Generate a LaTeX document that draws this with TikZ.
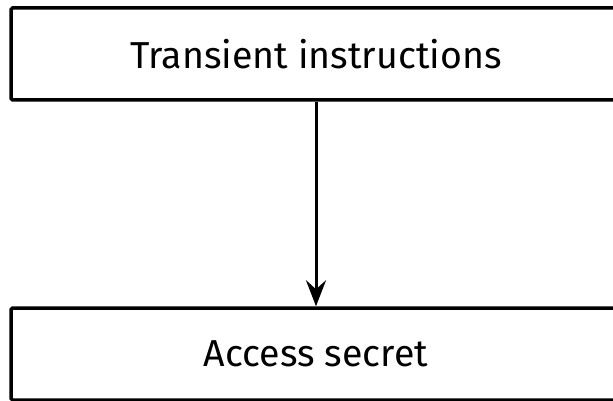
\documentclass[tikz,border=0pt]{standalone}
\usepackage{fontspec}
\setmainfont{Fira Sans}
\usetikzlibrary{arrows.meta}
\tikzset{stagebox/.style={draw, line width=3.5pt, rounded corners=1.5pt, minimum width=610pt, minimum height=92pt, inner sep=0pt, font=\fontsize{37.5}{45}\selectfont}}
\begin{document}
\begin{tikzpicture}[x=1pt,y=-1pt]
\useasboundingbox (0,0) rectangle (613,401);
\node[stagebox] (v0) at (316,54) {Transient instructions};
\node[stagebox] (v1) at (316,354) {Access secret};
\draw [-{Stealth[length=26pt,width=20pt,inset=9pt]}, line width=3pt] (v0) edge (v1);
\end{tikzpicture}
\end{document}
